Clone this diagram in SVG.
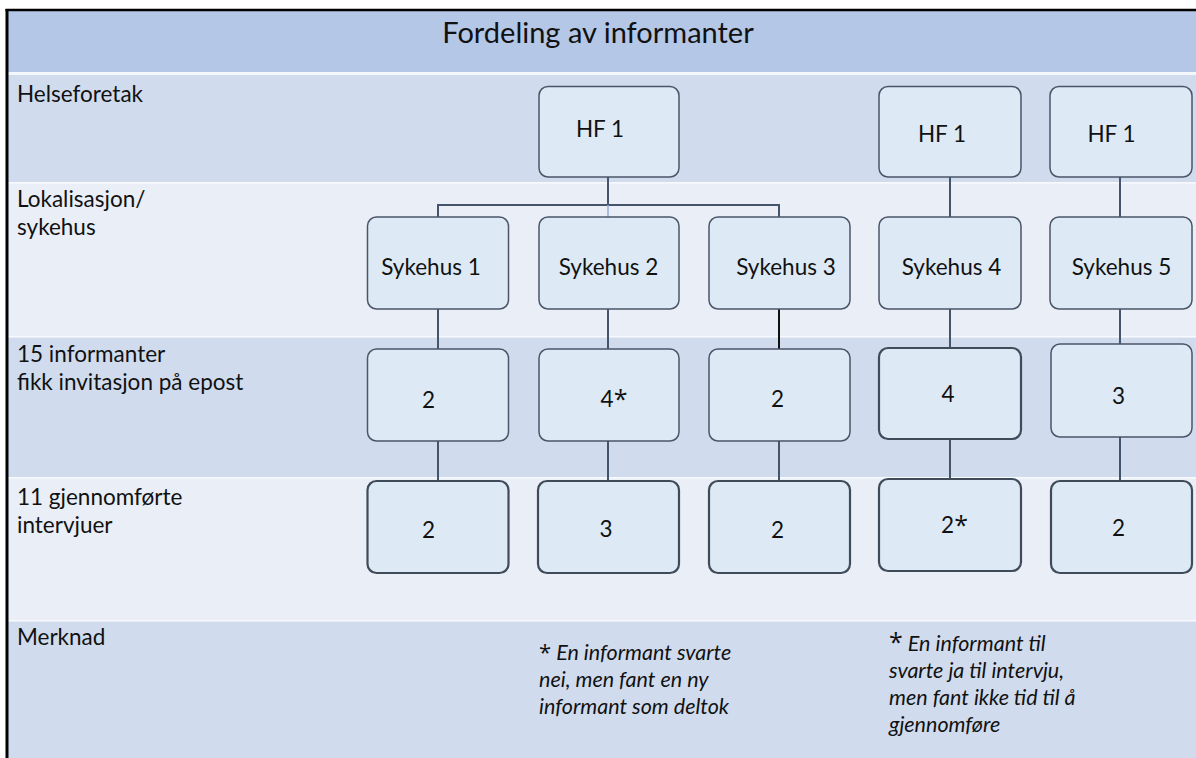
<svg xmlns="http://www.w3.org/2000/svg" width="1196" height="758" viewBox="0 0 1196 758">
<style>
.lbl{font-family:Lato,"Open Sans","Liberation Sans",sans-serif;font-size:22.5px;fill:#111}
.bx{fill:#DDEAF6;stroke:#4A5568;stroke-width:1.5}
.bx2{fill:#DDEAF6;stroke:#404B5A;stroke-width:2.2}
.t{font-family:Lato,"Open Sans","Liberation Sans",sans-serif;font-size:22.5px;fill:#111;text-anchor:middle}
.note{font-family:Lato,"Open Sans","Liberation Sans",sans-serif;font-size:21.5px;fill:#111;font-style:italic}
.ast{font-style:normal;font-family:"Open Sans","DejaVu Sans",sans-serif}
.c{stroke:#44546A;stroke-width:2;fill:none}
</style>
<rect x="0" y="0" width="1196" height="758" fill="#FFFFFF"/>
<g id="bands">
<rect x="7" y="10" width="1189" height="62" fill="#B4C7E7"/>
<rect x="7" y="72" width="1189" height="3" fill="#F4F7FC"/>
<rect x="7" y="75" width="1189" height="107" fill="#D0DCEE"/>
<rect x="7" y="182" width="1189" height="1.5" fill="#F7F9FD"/>
<rect x="7" y="183.5" width="1189" height="152.5" fill="#E9EEF7"/>
<rect x="7" y="336" width="1189" height="1.5" fill="#F7F9FD"/>
<rect x="7" y="337.5" width="1189" height="139.5" fill="#D0DCEE"/>
<rect x="7" y="477" width="1189" height="1.5" fill="#F7F9FD"/>
<rect x="7" y="478.5" width="1189" height="141.5" fill="#E9EEF7"/>
<rect x="7" y="620" width="1189" height="1.5" fill="#F7F9FD"/>
<rect x="7" y="621.5" width="1189" height="136.5" fill="#D0DCEE"/>
<line x1="5.5" y1="10" x2="1196" y2="10" stroke="#000" stroke-width="2.5"/>
<line x1="7" y1="9" x2="7" y2="758" stroke="#000" stroke-width="3"/>
</g>
<g id="title"><text x="598" y="43" class="lbl" style="font-size:29px;text-anchor:middle">Fordeling av informanter</text></g>
<g id="row-labels">
<text x="17" y="102" class="lbl">Helseforetak</text>
<text x="17" y="207" class="lbl">Lokalisasjon/</text>
<text x="17" y="235" class="lbl">sykehus</text>
<text x="17" y="362" class="lbl">15 informanter</text>
<text x="17" y="390" class="lbl">fikk invitasjon på epost</text>
<text x="17" y="505" class="lbl">11 gjennomførte</text>
<text x="17" y="533" class="lbl">intervjuer</text>
<text x="17" y="645" class="lbl">Merknad</text>
</g>
<g id="connectors">
<polyline class="c" points="608,177 608,205"/>
<polyline class="c" points="438,217 438,205 779,205 779,217"/>
<line x1="608" y1="205" x2="608" y2="217" stroke="#8FAADC" stroke-width="1.5"/>
<line class="c" x1="950" y1="177" x2="950" y2="217"/>
<line class="c" x1="1120" y1="177" x2="1120" y2="217"/>
<line class="c" x1="438" y1="309" x2="438" y2="349"/>
<line class="c" x1="608" y1="309" x2="608" y2="349"/>
<line x1="779" y1="309" x2="779" y2="349" stroke="#111" stroke-width="2"/>
<line class="c" x1="950" y1="309" x2="950" y2="348"/>
<line class="c" x1="1120" y1="309" x2="1120" y2="344"/>
<line class="c" x1="438" y1="441" x2="438" y2="481"/>
<line class="c" x1="608" y1="441" x2="608" y2="481"/>
<line class="c" x1="779" y1="441" x2="779" y2="481"/>
<line class="c" x1="950" y1="439" x2="950" y2="479"/>
<line class="c" x1="1120" y1="437" x2="1120" y2="481"/>
</g>
<g id="hf1a"><rect class="bx" x="539" y="86.5" width="140" height="90.5" rx="9"/><text class="t" x="600" y="137">HF 1</text></g>
<g id="hf1b"><rect class="bx" x="879" y="86.5" width="142" height="90.5" rx="9"/><text class="t" x="942" y="142">HF 1</text></g>
<g id="hf1c"><rect class="bx" x="1050" y="86.5" width="142" height="90.5" rx="9"/><text class="t" x="1111.5" y="142">HF 1</text></g>
<g id="s1"><rect class="bx" x="367.5" y="217" width="141" height="92" rx="9"/><text class="t" x="431" y="275">Sykehus 1</text></g>
<g id="s2"><rect class="bx" x="539" y="217" width="140" height="92" rx="9"/><text class="t" x="608.5" y="275">Sykehus 2</text></g>
<g id="s3"><rect class="bx" x="709" y="217" width="141" height="92" rx="9"/><text class="t" x="786" y="275">Sykehus 3</text></g>
<g id="s4"><rect class="bx" x="879" y="217" width="142" height="92" rx="9"/><text class="t" x="951.5" y="275">Sykehus 4</text></g>
<g id="s5"><rect class="bx" x="1050" y="217" width="142" height="92" rx="9"/><text class="t" x="1121.5" y="275">Sykehus 5</text></g>
<g id="inv1"><rect class="bx" x="367.5" y="349" width="141" height="92" rx="9"/><text class="t" x="428.5" y="408">2</text></g>
<g id="inv2"><rect class="bx" x="539" y="349" width="140" height="92" rx="9"/><text class="t" x="614" y="407">4<tspan class="ast" style="font-size:25px" dy="1">*</tspan></text></g>
<g id="inv3"><rect class="bx" x="709" y="349" width="141" height="92" rx="9"/><text class="t" x="777.5" y="407">2</text></g>
<g id="inv4"><rect class="bx2" x="879" y="348" width="142" height="91" rx="9"/><text class="t" x="948" y="402">4</text></g>
<g id="inv5"><rect class="bx" x="1051" y="344" width="141" height="93" rx="9"/><text class="t" x="1118.5" y="404">3</text></g>
<g id="int1"><rect class="bx2" x="367.5" y="481" width="141" height="92" rx="9"/><text class="t" x="428.5" y="538">2</text></g>
<g id="int2"><rect class="bx2" x="538" y="481" width="141" height="92" rx="9"/><text class="t" x="606" y="537">3</text></g>
<g id="int3"><rect class="bx2" x="709" y="481" width="141" height="92" rx="9"/><text class="t" x="777.5" y="538">2</text></g>
<g id="int4"><rect class="bx2" x="879" y="479" width="142" height="92" rx="9"/><text class="t" x="954.5" y="533">2<tspan class="ast" style="font-size:25px" dy="1">*</tspan></text></g>
<g id="int5"><rect class="bx2" x="1051" y="481" width="141" height="92" rx="9"/><text class="t" x="1118.5" y="536">2</text></g>
<g id="notes">
<text class="note" x="539" y="660"><tspan class="ast" style="font-size:22px">*</tspan> En informant svarte</text>
<text class="note" x="539" y="687">nei, men fant en ny</text>
<text class="note" x="539" y="714">informant som deltok</text>
<text class="note" x="889" y="651"><tspan class="ast" style="font-size:25px">*</tspan> En informant til</text>
<text class="note" x="889" y="678">svarte ja til intervju,</text>
<text class="note" x="889" y="705">men fant ikke tid til å</text>
<text class="note" x="889" y="732">gjennomføre</text>
</g>
</svg>
